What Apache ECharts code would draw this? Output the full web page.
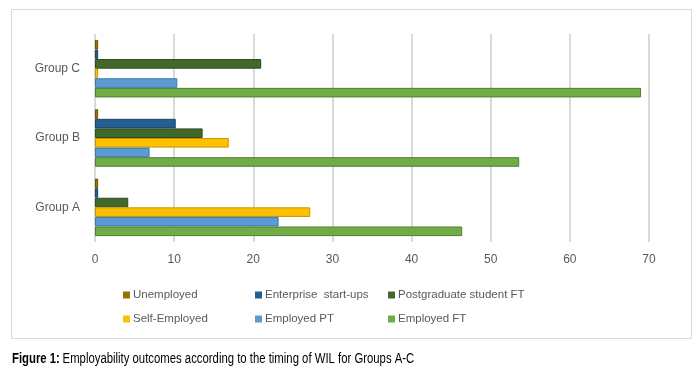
<!DOCTYPE html>
<html>
<head>
<meta charset="utf-8">
<script src="https://cdn.jsdelivr.net/npm/echarts@6/dist/echarts.min.js"></script>
<style>html,body{margin:0;padding:0;background:#fff;}#c{width:699px;height:370px;}</style>
</head>
<body>
<div id="c"></div>
<script>
var categories = ['Group A', 'Group B', 'Group C'];
var seriesNames = ['Unemployed', 'Enterprise  start-ups', 'Postgraduate student FT', 'Self-Employed', 'Employed PT', 'Employed FT'];
var unemployed = [0.4, 0.4, 0.4];
var enterpriseStartups = [0.4, 10.2, 0.4];
var postgraduateFT = [4.2, 13.6, 21.0];
var selfEmployed = [27.2, 16.9, 0.4];
var employedPT = [23.2, 6.9, 10.4];
var employedFT = [46.4, 53.6, 69.0];
var xTicks = [0, 10, 20, 30, 40, 50, 60, 70];
var caption = 'Employability outcomes according to the timing of WIL for Groups A-C';

var colors = {
  'Employed FT': ['#70ad47', '#507e32'],
  'Employed PT': ['#5b9bd5', '#3f78ab'],
  'Self-Employed': ['#ffc000', '#c79600'],
  'Postgraduate student FT': ['#43682b', '#2f4a1e'],
  'Enterprise  start-ups': ['#255e91', '#1a4468'],
  'Unemployed': ['#997300', '#6e5300']
};
var values = [unemployed, enterpriseStartups, postgraduateFT, selfEmployed, employedPT, employedFT];

var font = "'Liberation Sans', Arial, sans-serif";
var series = seriesNames.map(function (n, i) {
  return {
    name: n, type: 'bar', data: values[i],
    barGap: '0%', barCategoryGap: '17%',
    itemStyle: { color: colors[n][0], borderColor: colors[n][1], borderWidth: 1 }
  };
});

function legend(left, names) {
  return {
    left: left, top: 284, orient: 'vertical', itemWidth: 7, itemHeight: 7, itemGap: 12,
    icon: 'rect', data: names, selectedMode: false,
    itemStyle: { borderWidth: 0 },
    textStyle: { color: '#595959', fontSize: 11.5, fontFamily: font, padding: [0, 0, 0, -2] }
  };
}

var chart = echarts.init(document.getElementById('c'), null, { renderer: 'canvas' });
chart.setOption({
  animation: false,
  color: seriesNames.map(function (n) { return colors[n][0]; }),
  grid: { left: 95, right: 50, top: 34, bottom: 128, containLabel: false },
  xAxis: {
    type: 'value', min: xTicks[0], max: xTicks[xTicks.length - 1], interval: 10,
    axisLine: { show: false }, axisTick: { show: false },
    splitLine: { show: true, lineStyle: { color: '#d9d9d9', width: 2 } },
    axisLabel: { color: '#595959', fontSize: 12, fontFamily: font, margin: 12 }
  },
  yAxis: {
    type: 'category', data: categories,
    axisLine: { show: false }, axisTick: { show: false },
    axisLabel: { color: '#595959', fontSize: 12, fontFamily: font, margin: 15 }
  },
  legend: [
    legend(118, ['Unemployed', 'Self-Employed']),
    legend(250, ['Enterprise  start-ups', 'Employed PT']),
    legend(383, ['Postgraduate student FT', 'Employed FT'])
  ],
  graphic: [
    { type: 'rect', shape: { x: 11.5, y: 9.5, width: 680, height: 329 }, style: { fill: 'none', stroke: '#d9d9d9', lineWidth: 1 }, silent: true, z: -1 },
    { type: 'text', x: 12, y: 352, scaleX: 0.81, style: {
        text: '{b|Figure 1:} {n|' + caption + '}',
        rich: {
          b: { fontWeight: 'bold', fontSize: 14, fontFamily: font, fill: '#000' },
          n: { fontSize: 14, fontFamily: font, fill: '#000' }
        }
      } }
  ],
  series: series
});
</script>
</body>
</html>
